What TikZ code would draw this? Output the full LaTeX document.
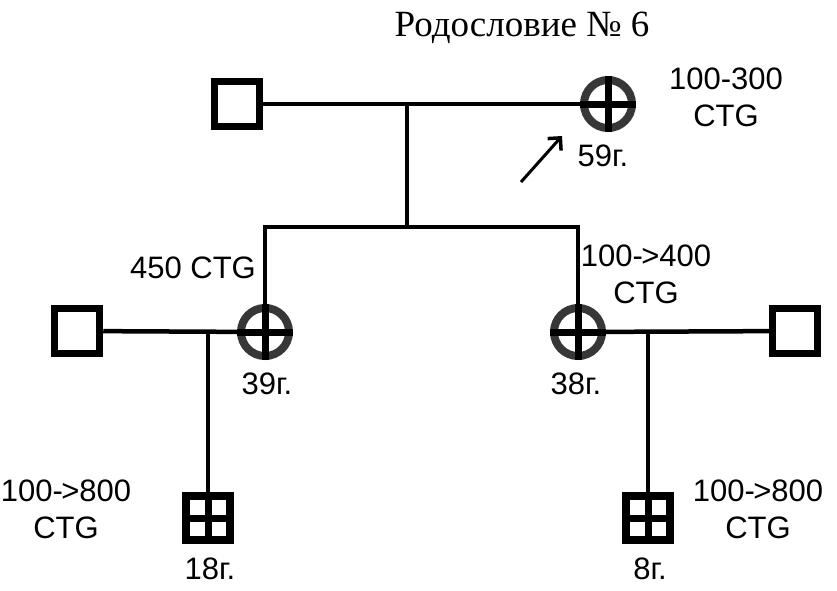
\documentclass[tikz,border=0pt]{standalone}
\usepackage{fontspec}
\setmainfont{Liberation Serif}
\setsansfont{Liberation Sans}
\usetikzlibrary{arrows.meta}
\definecolor{ringgray}{RGB}{55,55,55}
\newcommand\toarr{-\kern-1.5pt>}
\tikzset{
  male/.style={draw, line width=7.5pt, minimum size=45pt, inner sep=0pt},
  female/.style={circle, draw=ringgray, line width=8pt, minimum size=48pt, inner sep=0pt},
  kid/.style={draw, line width=7.5pt, minimum size=44pt, inner sep=0pt},
  lbl/.style={font=\sffamily\fontsize{31}{37}\selectfont, align=center, inner sep=0pt},
}
\begin{document}
\begin{tikzpicture}[x=1pt, y=-1pt, line width=4.5pt]
  \useasboundingbox (0,0) rectangle (837,590);
  \node[font=\fontsize{37}{42}\selectfont] (title) at (522,28) {Родословие № 6};

  % parents
  \node[male] (m1) at (237,104) {};
  \node[female] (f1) at (608,104) {};
  \draw (m1) -- (f1);
  \coordinate (top) at (407,104);
  \coordinate (mid) at (407,227);
  \draw (top) -- (mid);

  % children of first generation
  \node[female] (f2) at (265,332) {};
  \node[female] (f3) at (578,332) {};
  \draw (f2.north) -- (f2 |- mid) -- (f3 |- mid) -- (f3.north);

  % spouses
  \node[male] (m2) at (77,331) {};
  \node[male] (m3) at (795,331) {};
  \draw (m2) -- (f2);
  \draw (f3) -- (m3);

  % crosses
  \foreach \n in {f1,f2,f3} {
    \draw[line width=7pt] (\n.north) -- (\n.south);
    \draw[line width=7pt] (\n.west) -- (\n.east);
  }

  % grandchildren
  \node[kid] (k1) at (208,518) {};
  \node[kid] (k2) at (648,518) {};
  \coordinate (j1) at (208,331);
  \coordinate (j2) at (648,331);
  \draw (j1) -- (k1);
  \draw (j2) -- (k2);
  \foreach \n in {k1,k2} {
    \draw[line width=7pt] (\n.north) -- (\n.south);
    \draw[line width=7pt] (\n.west) -- (\n.east);
  }

  % arrow
  \coordinate (a0) at (521,182);
  \coordinate (a1) at (562,136);
  \draw[line width=3pt, -{Straight Barb[length=9pt, width=18pt, line width=3.5pt]}] (a0) -- (a1);

  % labels
  \node[lbl] (t1) at (726,97) {100-300\\CTG};
  \node[lbl] (t2) at (603,156) {59г.};
  \node[lbl] (t3) at (193,268) {450 CTG};
  \node[lbl] (t4) at (646,274) {100\toarr400\\CTG};
  \node[lbl] (t5) at (267,384) {39г.};
  \node[lbl] (t6) at (576,384) {38г.};
  \node[lbl] (t7) at (66,509) {100\toarr800\\CTG};
  \node[lbl] (t8) at (758,509) {100\toarr800\\CTG};
  \node[lbl] (t9) at (210,569) {18г.};
  \node[lbl] (t10) at (650,569) {8г.};
\end{tikzpicture}
\end{document}
